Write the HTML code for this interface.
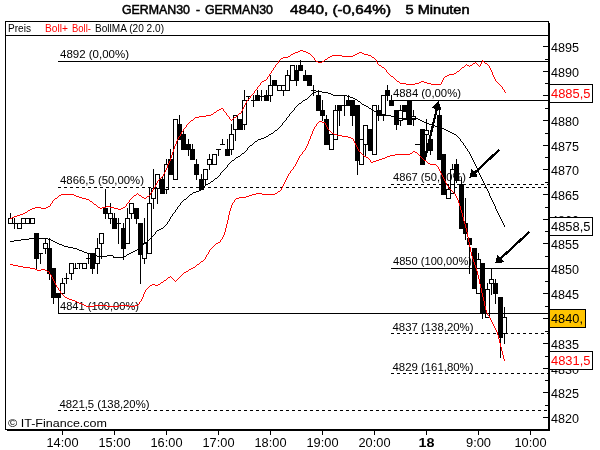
<!DOCTYPE html>
<html><head><meta charset="utf-8"><style>html,body{margin:0;padding:0;background:#fff;overflow:hidden}svg{display:block;will-change:transform}text{shape-rendering:auto}</style></head>
<body><svg width="600" height="450" viewBox="0 0 600 450" shape-rendering="crispEdges"><path fill="#000" d="M5 21h544v1h-544zM5 21h1v409h-1zM548 21h1v409h-1zM549 23h1v408h-1zM5 429h545v1h-545zM7 430h543v1h-543zM5 35h544v1h-544z"/><text x="8" y="32" font-family="'Liberation Sans', sans-serif" font-size="11" font-weight="normal" fill="#000" text-anchor="start" textLength="23" lengthAdjust="spacingAndGlyphs">Preis</text><text x="45" y="32" font-family="'Liberation Sans', sans-serif" font-size="11" font-weight="normal" fill="#f00" text-anchor="start" textLength="23" lengthAdjust="spacingAndGlyphs">Boll+</text><text x="72" y="32" font-family="'Liberation Sans', sans-serif" font-size="11" font-weight="normal" fill="#f00" text-anchor="start" textLength="19" lengthAdjust="spacingAndGlyphs">Boll-</text><text x="95" y="32" font-family="'Liberation Sans', sans-serif" font-size="11" font-weight="normal" fill="#000" text-anchor="start" textLength="69" lengthAdjust="spacingAndGlyphs">BollMA (20 2.0)</text><text x="122" y="14" font-family="'Liberation Sans', sans-serif" font-size="12" font-weight="normal" fill="#000" text-anchor="start" textLength="68" lengthAdjust="spacingAndGlyphs" stroke="#000" stroke-width="0.5">GERMAN30</text><text x="196" y="14" font-family="'Liberation Sans', sans-serif" font-size="12" font-weight="normal" fill="#000" text-anchor="start" textLength="4" lengthAdjust="spacingAndGlyphs" stroke="#000" stroke-width="0.5">-</text><text x="205" y="14" font-family="'Liberation Sans', sans-serif" font-size="12" font-weight="normal" fill="#000" text-anchor="start" textLength="68" lengthAdjust="spacingAndGlyphs" stroke="#000" stroke-width="0.5">GERMAN30</text><text x="290" y="14" font-family="'Liberation Sans', sans-serif" font-size="12" font-weight="normal" fill="#000" text-anchor="start" textLength="101" lengthAdjust="spacingAndGlyphs" stroke="#000" stroke-width="0.5">4840, (-0,64%)</text><text x="405.5" y="14" font-family="'Liberation Sans', sans-serif" font-size="12" font-weight="normal" fill="#000" text-anchor="start" textLength="64" lengthAdjust="spacingAndGlyphs" stroke="#000" stroke-width="0.5">5 Minuten</text><path fill="#000" d="M543 46h5v1h-5z"/><text x="551" y="52" font-family="'Liberation Sans', sans-serif" font-size="12" font-weight="normal" fill="#000" text-anchor="start" textLength="28" lengthAdjust="spacingAndGlyphs">4895</text><path fill="#000" d="M545 59h3v1h-3zM543 71h5v1h-5z"/><text x="551" y="77" font-family="'Liberation Sans', sans-serif" font-size="12" font-weight="normal" fill="#000" text-anchor="start" textLength="28" lengthAdjust="spacingAndGlyphs">4890</text><path fill="#000" d="M545 83h3v1h-3zM543 95h5v1h-5z"/><text x="551" y="101" font-family="'Liberation Sans', sans-serif" font-size="12" font-weight="normal" fill="#000" text-anchor="start" textLength="28" lengthAdjust="spacingAndGlyphs">4885</text><path fill="#000" d="M545 108h3v1h-3zM543 120h5v1h-5z"/><text x="551" y="126" font-family="'Liberation Sans', sans-serif" font-size="12" font-weight="normal" fill="#000" text-anchor="start" textLength="28" lengthAdjust="spacingAndGlyphs">4880</text><path fill="#000" d="M545 133h3v1h-3zM543 145h5v1h-5z"/><text x="551" y="151" font-family="'Liberation Sans', sans-serif" font-size="12" font-weight="normal" fill="#000" text-anchor="start" textLength="28" lengthAdjust="spacingAndGlyphs">4875</text><path fill="#000" d="M545 157h3v1h-3zM543 169h5v1h-5z"/><text x="551" y="175" font-family="'Liberation Sans', sans-serif" font-size="12" font-weight="normal" fill="#000" text-anchor="start" textLength="28" lengthAdjust="spacingAndGlyphs">4870</text><path fill="#000" d="M545 182h3v1h-3zM543 194h5v1h-5z"/><text x="551" y="200" font-family="'Liberation Sans', sans-serif" font-size="12" font-weight="normal" fill="#000" text-anchor="start" textLength="28" lengthAdjust="spacingAndGlyphs">4865</text><path fill="#000" d="M545 207h3v1h-3zM543 219h5v1h-5z"/><text x="551" y="225" font-family="'Liberation Sans', sans-serif" font-size="12" font-weight="normal" fill="#000" text-anchor="start" textLength="28" lengthAdjust="spacingAndGlyphs">4860</text><path fill="#000" d="M545 231h3v1h-3zM543 243h5v1h-5z"/><text x="551" y="249" font-family="'Liberation Sans', sans-serif" font-size="12" font-weight="normal" fill="#000" text-anchor="start" textLength="28" lengthAdjust="spacingAndGlyphs">4855</text><path fill="#000" d="M545 256h3v1h-3zM543 268h5v1h-5z"/><text x="551" y="274" font-family="'Liberation Sans', sans-serif" font-size="12" font-weight="normal" fill="#000" text-anchor="start" textLength="28" lengthAdjust="spacingAndGlyphs">4850</text><path fill="#000" d="M545 281h3v1h-3zM543 293h5v1h-5z"/><text x="551" y="299" font-family="'Liberation Sans', sans-serif" font-size="12" font-weight="normal" fill="#000" text-anchor="start" textLength="28" lengthAdjust="spacingAndGlyphs">4845</text><path fill="#000" d="M545 306h3v1h-3zM543 318h5v1h-5z"/><text x="551" y="324" font-family="'Liberation Sans', sans-serif" font-size="12" font-weight="normal" fill="#000" text-anchor="start" textLength="28" lengthAdjust="spacingAndGlyphs">4840</text><path fill="#000" d="M545 331h3v1h-3zM543 343h5v1h-5z"/><text x="551" y="349" font-family="'Liberation Sans', sans-serif" font-size="12" font-weight="normal" fill="#000" text-anchor="start" textLength="28" lengthAdjust="spacingAndGlyphs">4835</text><path fill="#000" d="M545 356h3v1h-3zM543 368h5v1h-5z"/><text x="551" y="374" font-family="'Liberation Sans', sans-serif" font-size="12" font-weight="normal" fill="#000" text-anchor="start" textLength="28" lengthAdjust="spacingAndGlyphs">4830</text><path fill="#000" d="M545 380h3v1h-3zM543 392h5v1h-5z"/><text x="551" y="398" font-family="'Liberation Sans', sans-serif" font-size="12" font-weight="normal" fill="#000" text-anchor="start" textLength="28" lengthAdjust="spacingAndGlyphs">4825</text><path fill="#000" d="M545 405h3v1h-3zM543 417h5v1h-5z"/><text x="551" y="423" font-family="'Liberation Sans', sans-serif" font-size="12" font-weight="normal" fill="#000" text-anchor="start" textLength="28" lengthAdjust="spacingAndGlyphs">4820</text><path fill="#000" d="M62 431h1v4h-1z"/><text x="62.5" y="447" font-family="'Liberation Sans', sans-serif" font-size="12" font-weight="normal" fill="#000" text-anchor="middle" textLength="32" lengthAdjust="spacingAndGlyphs">14:00</text><path fill="#000" d="M114 431h1v4h-1z"/><text x="114.5" y="447" font-family="'Liberation Sans', sans-serif" font-size="12" font-weight="normal" fill="#000" text-anchor="middle" textLength="32" lengthAdjust="spacingAndGlyphs">15:00</text><path fill="#000" d="M166 431h1v4h-1z"/><text x="166.5" y="447" font-family="'Liberation Sans', sans-serif" font-size="12" font-weight="normal" fill="#000" text-anchor="middle" textLength="32" lengthAdjust="spacingAndGlyphs">16:00</text><path fill="#000" d="M218 431h1v4h-1z"/><text x="218.5" y="447" font-family="'Liberation Sans', sans-serif" font-size="12" font-weight="normal" fill="#000" text-anchor="middle" textLength="32" lengthAdjust="spacingAndGlyphs">17:00</text><path fill="#000" d="M270 431h1v4h-1z"/><text x="270.5" y="447" font-family="'Liberation Sans', sans-serif" font-size="12" font-weight="normal" fill="#000" text-anchor="middle" textLength="32" lengthAdjust="spacingAndGlyphs">18:00</text><path fill="#000" d="M322 431h1v4h-1z"/><text x="322.5" y="447" font-family="'Liberation Sans', sans-serif" font-size="12" font-weight="normal" fill="#000" text-anchor="middle" textLength="32" lengthAdjust="spacingAndGlyphs">19:00</text><path fill="#000" d="M374 431h1v4h-1z"/><text x="374.5" y="447" font-family="'Liberation Sans', sans-serif" font-size="12" font-weight="normal" fill="#000" text-anchor="middle" textLength="32" lengthAdjust="spacingAndGlyphs">20:00</text><path fill="#000" d="M426 431h1v4h-1z"/><text x="426.5" y="447" font-family="'Liberation Sans', sans-serif" font-size="12" font-weight="bold" fill="#000" text-anchor="middle" textLength="16" lengthAdjust="spacingAndGlyphs">18</text><path fill="#000" d="M478 431h1v4h-1z"/><text x="478.5" y="447" font-family="'Liberation Sans', sans-serif" font-size="12" font-weight="normal" fill="#000" text-anchor="middle" textLength="25" lengthAdjust="spacingAndGlyphs">9:00</text><path fill="#000" d="M530 431h1v4h-1z"/><text x="530.5" y="447" font-family="'Liberation Sans', sans-serif" font-size="12" font-weight="normal" fill="#000" text-anchor="middle" textLength="32" lengthAdjust="spacingAndGlyphs">10:00</text><path fill="#000" d="M58 61h490v1h-490zM391 100h157v1h-157zM391 184h3v1h-3zM397 184h3v1h-3zM403 184h3v1h-3zM409 184h3v1h-3zM415 184h3v1h-3zM421 184h3v1h-3zM427 184h3v1h-3zM433 184h3v1h-3zM439 184h3v1h-3zM445 184h3v1h-3zM451 184h3v1h-3zM457 184h3v1h-3zM463 184h3v1h-3zM469 184h3v1h-3zM475 184h3v1h-3zM481 184h3v1h-3zM487 184h3v1h-3zM493 184h3v1h-3zM499 184h3v1h-3zM505 184h3v1h-3zM511 184h3v1h-3zM517 184h3v1h-3zM523 184h3v1h-3zM529 184h3v1h-3zM535 184h3v1h-3zM541 184h3v1h-3zM547 184h1v1h-1zM58 187h3v1h-3zM64 187h3v1h-3zM70 187h3v1h-3zM76 187h3v1h-3zM82 187h3v1h-3zM88 187h3v1h-3zM94 187h3v1h-3zM100 187h3v1h-3zM106 187h3v1h-3zM112 187h3v1h-3zM118 187h3v1h-3zM124 187h3v1h-3zM130 187h3v1h-3zM136 187h3v1h-3zM142 187h3v1h-3zM148 187h3v1h-3zM154 187h3v1h-3zM160 187h3v1h-3zM166 187h3v1h-3zM172 187h3v1h-3zM178 187h3v1h-3zM184 187h3v1h-3zM190 187h3v1h-3zM196 187h3v1h-3zM202 187h3v1h-3zM208 187h3v1h-3zM214 187h3v1h-3zM220 187h3v1h-3zM226 187h3v1h-3zM232 187h3v1h-3zM238 187h3v1h-3zM244 187h3v1h-3zM250 187h3v1h-3zM256 187h3v1h-3zM262 187h3v1h-3zM268 187h3v1h-3zM274 187h3v1h-3zM280 187h3v1h-3zM286 187h3v1h-3zM292 187h3v1h-3zM298 187h3v1h-3zM304 187h3v1h-3zM310 187h3v1h-3zM316 187h3v1h-3zM322 187h3v1h-3zM328 187h3v1h-3zM334 187h3v1h-3zM340 187h3v1h-3zM346 187h3v1h-3zM352 187h3v1h-3zM358 187h3v1h-3zM364 187h3v1h-3zM370 187h3v1h-3zM376 187h3v1h-3zM382 187h3v1h-3zM388 187h3v1h-3zM394 187h3v1h-3zM400 187h3v1h-3zM406 187h3v1h-3zM412 187h3v1h-3zM418 187h3v1h-3zM424 187h3v1h-3zM430 187h3v1h-3zM436 187h3v1h-3zM442 187h3v1h-3zM448 187h3v1h-3zM454 187h3v1h-3zM460 187h3v1h-3zM466 187h3v1h-3zM472 187h3v1h-3zM478 187h3v1h-3zM484 187h3v1h-3zM490 187h3v1h-3zM496 187h3v1h-3zM502 187h3v1h-3zM508 187h3v1h-3zM514 187h3v1h-3zM520 187h3v1h-3zM526 187h3v1h-3zM532 187h3v1h-3zM538 187h3v1h-3zM544 187h3v1h-3zM391 268h157v1h-157zM58 313h490v1h-490zM391 333h3v1h-3zM397 333h3v1h-3zM403 333h3v1h-3zM409 333h3v1h-3zM415 333h3v1h-3zM421 333h3v1h-3zM427 333h3v1h-3zM433 333h3v1h-3zM439 333h3v1h-3zM445 333h3v1h-3zM451 333h3v1h-3zM457 333h3v1h-3zM463 333h3v1h-3zM469 333h3v1h-3zM475 333h3v1h-3zM481 333h3v1h-3zM487 333h3v1h-3zM493 333h3v1h-3zM499 333h3v1h-3zM505 333h3v1h-3zM511 333h3v1h-3zM517 333h3v1h-3zM523 333h3v1h-3zM529 333h3v1h-3zM535 333h3v1h-3zM541 333h3v1h-3zM547 333h1v1h-1zM391 373h3v1h-3zM397 373h3v1h-3zM403 373h3v1h-3zM409 373h3v1h-3zM415 373h3v1h-3zM421 373h3v1h-3zM427 373h3v1h-3zM433 373h3v1h-3zM439 373h3v1h-3zM445 373h3v1h-3zM451 373h3v1h-3zM457 373h3v1h-3zM463 373h3v1h-3zM469 373h3v1h-3zM475 373h3v1h-3zM481 373h3v1h-3zM487 373h3v1h-3zM493 373h3v1h-3zM499 373h3v1h-3zM505 373h3v1h-3zM511 373h3v1h-3zM517 373h3v1h-3zM523 373h3v1h-3zM529 373h3v1h-3zM535 373h3v1h-3zM541 373h3v1h-3zM547 373h1v1h-1zM58 410h3v1h-3zM64 410h3v1h-3zM70 410h3v1h-3zM76 410h3v1h-3zM82 410h3v1h-3zM88 410h3v1h-3zM94 410h3v1h-3zM100 410h3v1h-3zM106 410h3v1h-3zM112 410h3v1h-3zM118 410h3v1h-3zM124 410h3v1h-3zM130 410h3v1h-3zM136 410h3v1h-3zM142 410h3v1h-3zM148 410h3v1h-3zM154 410h3v1h-3zM160 410h3v1h-3zM166 410h3v1h-3zM172 410h3v1h-3zM178 410h3v1h-3zM184 410h3v1h-3zM190 410h3v1h-3zM196 410h3v1h-3zM202 410h3v1h-3zM208 410h3v1h-3zM214 410h3v1h-3zM220 410h3v1h-3zM226 410h3v1h-3zM232 410h3v1h-3zM238 410h3v1h-3zM244 410h3v1h-3zM250 410h3v1h-3zM256 410h3v1h-3zM262 410h3v1h-3zM268 410h3v1h-3zM274 410h3v1h-3zM280 410h3v1h-3zM286 410h3v1h-3zM292 410h3v1h-3zM298 410h3v1h-3zM304 410h3v1h-3zM310 410h3v1h-3zM316 410h3v1h-3zM322 410h3v1h-3zM328 410h3v1h-3zM334 410h3v1h-3zM340 410h3v1h-3zM346 410h3v1h-3zM352 410h3v1h-3zM358 410h3v1h-3zM364 410h3v1h-3zM370 410h3v1h-3zM376 410h3v1h-3zM382 410h3v1h-3zM388 410h3v1h-3zM394 410h3v1h-3zM400 410h3v1h-3zM406 410h3v1h-3zM412 410h3v1h-3zM418 410h3v1h-3zM424 410h3v1h-3zM430 410h3v1h-3zM436 410h3v1h-3zM442 410h3v1h-3zM448 410h3v1h-3zM454 410h3v1h-3zM460 410h3v1h-3zM466 410h3v1h-3zM472 410h3v1h-3zM478 410h3v1h-3zM484 410h3v1h-3zM490 410h3v1h-3zM496 410h3v1h-3zM502 410h3v1h-3zM508 410h3v1h-3zM514 410h3v1h-3zM520 410h3v1h-3zM526 410h3v1h-3zM532 410h3v1h-3zM538 410h3v1h-3zM544 410h3v1h-3z"/><text x="60" y="58" font-family="'Liberation Sans', sans-serif" font-size="11" font-weight="normal" fill="#000" text-anchor="start" textLength="69" lengthAdjust="spacingAndGlyphs">4892 (0,00%)</text><text x="393" y="97" font-family="'Liberation Sans', sans-serif" font-size="11" font-weight="normal" fill="#000" text-anchor="start" textLength="68" lengthAdjust="spacingAndGlyphs">4884 (0,00%)</text><text x="60" y="184" font-family="'Liberation Sans', sans-serif" font-size="11" font-weight="normal" fill="#000" text-anchor="start" textLength="84" lengthAdjust="spacingAndGlyphs">4866,5 (50,00%)</text><text x="393" y="181" font-family="'Liberation Sans', sans-serif" font-size="11" font-weight="normal" fill="#000" text-anchor="start" textLength="73" lengthAdjust="spacingAndGlyphs">4867 (50,00%)</text><text x="393" y="265" font-family="'Liberation Sans', sans-serif" font-size="11" font-weight="normal" fill="#000" text-anchor="start" textLength="79" lengthAdjust="spacingAndGlyphs">4850 (100,00%)</text><text x="60" y="310" font-family="'Liberation Sans', sans-serif" font-size="11" font-weight="normal" fill="#000" text-anchor="start" textLength="79" lengthAdjust="spacingAndGlyphs">4841 (100,00%)</text><text x="392.5" y="331" font-family="'Liberation Sans', sans-serif" font-size="11" font-weight="normal" fill="#000" text-anchor="start" textLength="81" lengthAdjust="spacingAndGlyphs">4837 (138,20%)</text><text x="392.5" y="371" font-family="'Liberation Sans', sans-serif" font-size="11" font-weight="normal" fill="#000" text-anchor="start" textLength="81" lengthAdjust="spacingAndGlyphs">4829 (161,80%)</text><text x="59.5" y="408" font-family="'Liberation Sans', sans-serif" font-size="11" font-weight="normal" fill="#000" text-anchor="start" textLength="90" lengthAdjust="spacingAndGlyphs">4821,5 (138,20%)</text><text x="8" y="427" font-family="'Liberation Sans', sans-serif" font-size="11" font-weight="normal" fill="#000" text-anchor="start" textLength="99" lengthAdjust="spacingAndGlyphs">© IT-Finance.com</text><path fill="#000" d="M402 105h5v7h-5zM10 213h1v6h-1zM8 218h5v1h-5zM8 223h5v1h-5zM8 218h1v6h-1zM12 218h1v6h-1zM14 218h1v6h-1zM14 223h1v6h-1zM12 223h5v1h-5zM14 218h1v11h-1zM17 223h5v1h-5zM17 228h5v1h-5zM17 223h1v6h-1zM21 223h1v6h-1zM21 218h5v1h-5zM21 223h5v1h-5zM21 218h1v6h-1zM25 218h1v6h-1zM25 218h5v1h-5zM25 223h5v1h-5zM25 218h1v6h-1zM29 218h1v6h-1zM30 218h5v1h-5zM30 223h5v1h-5zM30 218h1v6h-1zM34 218h1v6h-1zM36 258h1v11h-1zM34 233h5v26h-5zM40 253h1v11h-1zM38 253h5v1h-5zM40 253h1v11h-1zM45 238h1v6h-1zM45 248h1v6h-1zM43 243h5v1h-5zM43 248h5v1h-5zM43 243h1v6h-1zM47 243h1v6h-1zM49 238h1v11h-1zM49 273h1v7h-1zM47 248h5v26h-5zM53 297h1v7h-1zM51 268h5v30h-5zM58 297h1v17h-1zM56 293h5v5h-5zM62 278h1v6h-1zM60 283h5v1h-5zM60 293h5v1h-5zM60 283h1v11h-1zM64 283h1v11h-1zM66 273h1v6h-1zM66 278h1v6h-1zM64 278h5v1h-5zM66 273h1v11h-1zM71 273h1v7h-1zM69 263h5v1h-5zM69 273h5v1h-5zM69 263h1v11h-1zM73 263h1v11h-1zM75 263h1v6h-1zM73 268h5v1h-5zM75 263h1v6h-1zM79 263h1v6h-1zM77 263h5v1h-5zM79 263h1v6h-1zM82 263h5v1h-5zM82 268h5v1h-5zM82 263h1v6h-1zM86 263h1v6h-1zM88 254h1v5h-1zM88 258h1v6h-1zM86 258h5v1h-5zM88 254h1v10h-1zM92 268h1v6h-1zM90 253h5v16h-5zM97 238h1v11h-1zM97 263h1v11h-1zM95 248h5v1h-5zM95 263h5v1h-5zM95 248h1v16h-1zM99 248h1v16h-1zM101 243h1v16h-1zM99 233h5v1h-5zM99 243h5v1h-5zM99 233h1v11h-1zM103 233h1v11h-1zM105 189h1v20h-1zM105 213h1v6h-1zM103 208h5v6h-5zM110 203h1v11h-1zM110 218h1v6h-1zM108 213h5v1h-5zM108 218h5v1h-5zM108 213h1v6h-1zM112 213h1v6h-1zM114 213h1v6h-1zM112 218h5v11h-5zM118 218h1v6h-1zM118 223h1v21h-1zM116 223h5v1h-5zM118 218h1v26h-1zM123 223h1v6h-1zM123 248h1v12h-1zM121 228h5v21h-5zM127 208h1v11h-1zM125 218h5v1h-5zM125 243h5v1h-5zM125 218h1v26h-1zM129 218h1v26h-1zM131 213h1v6h-1zM129 203h5v1h-5zM129 213h5v1h-5zM129 203h1v11h-1zM133 203h1v11h-1zM136 218h1v6h-1zM134 208h5v11h-5zM140 254h1v30h-1zM138 223h5v32h-5zM144 218h1v26h-1zM144 258h1v6h-1zM142 243h5v1h-5zM142 258h5v1h-5zM142 243h1v16h-1zM146 243h1v16h-1zM149 188h1v16h-1zM147 203h5v1h-5zM147 253h5v1h-5zM147 203h1v51h-1zM151 203h1v51h-1zM153 169h1v20h-1zM153 198h1v11h-1zM151 188h5v1h-5zM151 198h5v1h-5zM151 188h1v11h-1zM155 188h1v11h-1zM157 188h1v16h-1zM155 174h5v1h-5zM155 188h5v1h-5zM155 174h1v15h-1zM159 174h1v15h-1zM162 176h1v4h-1zM160 179h5v15h-5zM166 159h1v6h-1zM166 189h1v5h-1zM164 164h5v1h-5zM164 189h5v1h-5zM164 164h1v26h-1zM168 164h1v26h-1zM170 149h1v11h-1zM168 159h5v16h-5zM173 119h5v1h-5zM173 179h5v1h-5zM173 119h1v61h-1zM177 119h1v61h-1zM179 115h1v10h-1zM177 124h5v16h-5zM183 129h1v6h-1zM181 134h5v16h-5zM188 139h1v6h-1zM188 149h1v7h-1zM186 144h5v6h-5zM192 144h1v6h-1zM190 149h5v11h-5zM196 159h1v6h-1zM196 174h1v6h-1zM194 164h5v11h-5zM201 174h1v6h-1zM199 179h5v11h-5zM205 179h1v6h-1zM203 169h5v1h-5zM203 179h5v1h-5zM203 169h1v11h-1zM207 169h1v11h-1zM209 154h1v6h-1zM209 164h1v6h-1zM207 159h5v1h-5zM207 164h5v1h-5zM207 159h1v6h-1zM211 159h1v6h-1zM212 154h5v1h-5zM212 164h5v1h-5zM212 154h1v11h-1zM216 154h1v11h-1zM218 149h1v7h-1zM216 149h5v1h-5zM218 149h1v7h-1zM222 139h1v6h-1zM220 144h5v1h-5zM222 139h1v6h-1zM227 139h1v11h-1zM225 149h5v7h-5zM231 124h1v11h-1zM231 149h1v6h-1zM229 134h5v1h-5zM229 149h5v1h-5zM229 134h1v16h-1zM233 134h1v16h-1zM235 129h1v12h-1zM233 115h5v1h-5zM233 129h5v1h-5zM233 115h1v15h-1zM237 115h1v15h-1zM238 119h5v11h-5zM244 90h1v11h-1zM244 124h1v6h-1zM242 100h5v1h-5zM242 124h5v1h-5zM242 100h1v25h-1zM246 100h1v25h-1zM248 96h1v5h-1zM246 96h5v1h-5zM248 96h1v5h-1zM253 95h1v6h-1zM253 100h1v7h-1zM251 100h5v1h-5zM253 95h1v12h-1zM257 90h1v6h-1zM255 95h5v6h-5zM261 90h1v7h-1zM261 96h1v5h-1zM259 96h5v1h-5zM261 90h1v11h-1zM266 90h1v6h-1zM264 95h5v6h-5zM270 75h1v11h-1zM270 95h1v7h-1zM268 85h5v1h-5zM268 95h5v1h-5zM268 85h1v11h-1zM272 85h1v11h-1zM272 80h5v6h-5zM277 85h5v1h-5zM277 90h5v1h-5zM277 85h1v6h-1zM281 85h1v6h-1zM283 90h1v6h-1zM281 85h5v1h-5zM281 90h5v1h-5zM281 85h1v6h-1zM285 85h1v6h-1zM287 70h1v6h-1zM285 75h5v1h-5zM285 90h5v1h-5zM285 75h1v16h-1zM289 75h1v16h-1zM290 65h5v1h-5zM290 80h5v1h-5zM290 65h1v16h-1zM294 65h1v16h-1zM296 65h1v6h-1zM296 80h1v6h-1zM294 70h5v11h-5zM300 60h1v6h-1zM298 65h5v6h-5zM305 70h1v6h-1zM303 75h5v6h-5zM307 75h5v11h-5zM313 85h1v6h-1zM313 90h1v6h-1zM311 90h5v1h-5zM313 85h1v11h-1zM318 90h1v6h-1zM316 95h5v16h-5zM322 100h1v11h-1zM322 115h1v6h-1zM320 110h5v6h-5zM326 115h1v5h-1zM324 119h5v26h-5zM329 134h5v1h-5zM329 149h5v1h-5zM329 134h1v16h-1zM333 134h1v16h-1zM335 105h1v6h-1zM333 110h5v1h-5zM333 139h5v1h-5zM333 110h1v30h-1zM337 110h1v30h-1zM339 110h1v16h-1zM337 105h5v6h-5zM344 95h1v11h-1zM344 105h1v11h-1zM342 105h5v1h-5zM344 95h1v21h-1zM348 95h1v6h-1zM346 100h5v6h-5zM352 115h1v11h-1zM350 100h5v16h-5zM357 160h1v15h-1zM355 105h5v56h-5zM359 139h5v1h-5zM359 164h5v1h-5zM359 139h1v26h-1zM363 139h1v26h-1zM365 144h1v12h-1zM363 125h5v1h-5zM363 144h5v1h-5zM363 125h1v20h-1zM367 125h1v20h-1zM368 129h5v22h-5zM372 105h5v1h-5zM372 154h5v1h-5zM372 105h1v50h-1zM376 105h1v50h-1zM378 105h1v6h-1zM378 115h1v6h-1zM376 110h5v6h-5zM383 115h1v6h-1zM381 95h5v1h-5zM381 115h5v1h-5zM381 95h1v21h-1zM385 95h1v21h-1zM387 85h1v6h-1zM387 95h1v6h-1zM385 90h5v6h-5zM391 95h1v6h-1zM389 100h5v6h-5zM396 124h1v6h-1zM394 110h5v15h-5zM400 105h1v6h-1zM400 120h1v6h-1zM398 110h5v1h-5zM398 120h5v1h-5zM398 110h1v11h-1zM402 110h1v11h-1zM404 105h1v7h-1zM402 111h5v1h-5zM402 119h5v1h-5zM402 111h1v9h-1zM406 111h1v9h-1zM407 100h5v25h-5zM413 110h1v7h-1zM413 119h1v7h-1zM411 116h5v1h-5zM411 119h5v1h-5zM411 116h1v4h-1zM415 116h1v4h-1zM415 144h5v1h-5zM417 144h1v1h-1zM420 129h5v36h-5zM426 119h1v12h-1zM426 134h1v17h-1zM424 130h5v1h-5zM424 134h5v1h-5zM424 130h1v5h-1zM428 130h1v5h-1zM430 150h1v5h-1zM428 139h5v12h-5zM439 110h1v6h-1zM437 115h5v45h-5zM441 154h5v41h-5zM448 184h1v6h-1zM446 189h5v1h-5zM446 198h5v1h-5zM446 189h1v10h-1zM450 189h1v10h-1zM452 164h1v6h-1zM450 169h5v1h-5zM450 193h5v1h-5zM450 169h1v25h-1zM454 169h1v25h-1zM456 159h1v6h-1zM456 180h1v3h-1zM454 164h5v17h-5zM461 178h1v7h-1zM459 184h5v45h-5zM465 198h1v26h-1zM465 233h1v7h-1zM463 223h5v11h-5zM469 244h1v30h-1zM467 238h5v7h-5zM472 248h5v41h-5zM478 253h1v7h-1zM476 259h5v1h-5zM476 293h5v1h-5zM476 259h1v35h-1zM480 259h1v35h-1zM482 313h1v6h-1zM480 263h5v51h-5zM487 283h1v7h-1zM485 289h5v1h-5zM485 317h5v1h-5zM485 289h1v29h-1zM489 289h1v29h-1zM491 268h1v12h-1zM491 283h1v12h-1zM489 279h5v1h-5zM489 283h5v1h-5zM489 279h1v5h-1zM493 279h1v5h-1zM495 279h1v5h-1zM495 293h1v11h-1zM493 283h5v11h-5zM500 337h1v21h-1zM498 297h5v41h-5zM504 307h1v11h-1zM504 333h1v11h-1zM502 317h5v1h-5zM502 333h5v1h-5zM502 317h1v17h-1zM506 317h1v17h-1zM64 246h4v1h-4zM140 246h2v1h-2zM82 251h2v1h-2zM133 251h2v1h-2zM281 125h1v1h-1zM433 125h2v1h-2zM59 244h3v1h-3zM143 244h1v1h-1zM188 196h1v1h-1zM490 196h1v1h-1zM97 256h10v1h-10zM113 256h1v1h-1zM124 256h2v1h-2zM252 144h1v1h-1zM463 144h1v1h-1zM230 162h1v1h-1zM474 162h1v1h-1zM62 245h2v1h-2zM142 245h1v1h-1zM10 241h4v1h-4zM53 241h2v1h-2zM147 241h1v1h-1zM192 193h1v1h-1zM489 193h1v1h-1zM291 112h1v1h-1zM376 112h3v1h-3zM314 92h2v1h-2zM322 92h6v1h-6zM246 150h1v1h-1zM467 150h1v1h-1zM172 214h1v1h-1zM498 214h1v1h-1zM287 117h1v1h-1zM395 117h3v1h-3zM196 191h3v1h-3zM488 191h1v1h-1zM29 238h19v1h-19zM150 238h1v1h-1zM294 108h1v1h-1zM369 108h2v1h-2zM242 153h2v1h-2zM469 153h1v1h-1zM57 243h2v1h-2zM144 243h1v1h-1zM210 182h1v1h-1zM483 182h1v1h-1zM286 118h1v1h-1zM398 118h20v1h-20zM21 239h8v1h-8zM48 239h3v1h-3zM149 239h1v1h-1zM271 133h2v1h-2zM452 133h2v1h-2zM215 178h2v1h-2zM481 178h1v1h-1zM299 103h2v1h-2zM361 103h1v1h-1zM205 185h1v1h-1zM485 185h1v1h-1zM231 161h1v1h-1zM473 161h1v1h-1zM168 221h1v1h-1zM502 221h1v1h-1zM157 230h2v1h-2zM177 207h1v1h-1zM495 207h1v1h-1zM94 255h3v1h-3zM107 255h6v1h-6zM126 255h1v1h-1zM316 91h6v1h-6zM235 158h1v1h-1zM472 158h1v1h-1zM293 110h1v1h-1zM372 110h2v1h-2zM268 135h1v1h-1zM456 135h1v1h-1zM175 211h1v1h-1zM497 211h1v1h-1zM274 131h1v1h-1zM448 131h2v1h-2zM87 253h4v1h-4zM129 253h2v1h-2zM279 127h1v1h-1zM438 127h3v1h-3zM14 240h7v1h-7zM51 240h2v1h-2zM148 240h1v1h-1zM152 236h1v1h-1zM254 142h1v1h-1zM462 142h1v1h-1zM240 155h1v1h-1zM470 155h1v1h-1zM278 128h1v1h-1zM441 128h3v1h-3zM232 160h2v1h-2zM473 160h1v1h-1zM289 114h1v1h-1zM382 114h4v1h-4zM253 143h1v1h-1zM463 143h1v1h-1zM55 242h2v1h-2zM145 242h2v1h-2zM311 94h1v1h-1zM331 94h2v1h-2zM247 148h1v1h-1zM466 148h1v1h-1zM206 184h2v1h-2zM484 184h1v1h-1zM201 189h1v1h-1zM487 189h1v1h-1zM223 170h1v1h-1zM478 170h1v1h-1zM277 129h1v1h-1zM444 129h2v1h-2zM289 115h1v1h-1zM386 115h5v1h-5zM214 179h1v1h-1zM482 179h1v1h-1zM249 146h1v1h-1zM465 146h1v1h-1zM280 126h1v1h-1zM435 126h3v1h-3zM303 100h2v1h-2zM357 100h1v1h-1zM261 138h3v1h-3zM459 138h1v1h-1zM218 176h1v1h-1zM480 176h1v1h-1zM308 97h1v1h-1zM350 97h3v1h-3zM199 190h2v1h-2zM487 190h1v1h-1zM290 113h1v1h-1zM379 113h3v1h-3zM179 205h1v1h-1zM494 205h1v1h-1zM269 134h2v1h-2zM454 134h2v1h-2zM180 204h1v1h-1zM494 204h1v1h-1zM275 130h2v1h-2zM446 130h2v1h-2zM310 95h1v1h-1zM333 95h14v1h-14zM178 206h1v1h-1zM495 206h1v1h-1zM226 167h1v1h-1zM476 167h1v1h-1zM229 163h1v1h-1zM474 163h1v1h-1zM163 227h1v1h-1zM297 105h1v1h-1zM364 105h2v1h-2zM175 210h1v1h-1zM496 210h1v1h-1zM295 107h1v1h-1zM368 107h1v1h-1zM113 257h11v1h-11zM273 132h1v1h-1zM450 132h2v1h-2zM68 247h5v1h-5zM139 247h1v1h-1zM241 154h1v1h-1zM470 154h1v1h-1zM301 102h1v1h-1zM360 102h1v1h-1zM208 183h2v1h-2zM484 183h1v1h-1zM79 250h3v1h-3zM135 250h2v1h-2zM257 140h1v1h-1zM460 140h1v1h-1zM183 200h1v1h-1zM492 200h1v1h-1zM284 121h1v1h-1zM422 121h2v1h-2zM193 192h3v1h-3zM488 192h1v1h-1zM84 252h3v1h-3zM131 252h2v1h-2zM187 197h1v1h-1zM490 197h1v1h-1zM155 232h1v1h-1zM312 93h2v1h-2zM328 93h3v1h-3zM184 199h2v1h-2zM491 199h1v1h-1zM73 248h4v1h-4zM138 248h1v1h-1zM159 229h2v1h-2zM236 157h2v1h-2zM471 157h1v1h-1zM292 111h1v1h-1zM374 111h2v1h-2zM77 249h2v1h-2zM137 249h1v1h-1zM244 152h1v1h-1zM469 152h1v1h-1zM221 172h1v1h-1zM478 172h1v1h-1zM211 181h2v1h-2zM483 181h1v1h-1zM283 122h1v1h-1zM424 122h2v1h-2zM307 98h1v1h-1zM353 98h2v1h-2zM171 216h1v1h-1zM499 216h1v1h-1zM91 254h3v1h-3zM127 254h2v1h-2zM282 123h1v1h-1zM426 123h3v1h-3zM151 237h1v1h-1zM305 99h2v1h-2zM355 99h2v1h-2zM285 120h1v1h-1zM420 120h2v1h-2zM309 96h1v1h-1zM347 96h3v1h-3zM164 226h1v1h-1zM504 226h1v1h-1zM167 223h1v1h-1zM503 223h1v1h-1zM245 151h1v1h-1zM468 151h1v1h-1zM264 137h2v1h-2zM458 137h1v1h-1zM248 147h1v1h-1zM465 147h1v1h-1zM258 139h3v1h-3zM460 139h1v1h-1zM220 174h1v1h-1zM479 174h1v1h-1zM165 225h1v1h-1zM504 225h1v1h-1zM154 234h1v1h-1zM174 212h1v1h-1zM497 212h1v1h-1zM177 208h1v1h-1zM495 208h1v1h-1zM282 124h1v1h-1zM429 124h4v1h-4zM288 116h1v1h-1zM391 116h4v1h-4zM180 203h1v1h-1zM493 203h1v1h-1zM225 168h1v1h-1zM477 168h1v1h-1zM266 136h2v1h-2zM457 136h1v1h-1zM238 156h2v1h-2zM471 156h1v1h-1zM255 141h2v1h-2zM461 141h1v1h-1zM286 119h1v1h-1zM418 119h2v1h-2zM189 195h1v1h-1zM489 195h1v1h-1zM169 220h1v1h-1zM501 220h1v1h-1zM213 180h1v1h-1zM482 180h1v1h-1zM228 164h1v1h-1zM475 164h1v1h-1zM161 228h2v1h-2zM294 109h1v1h-1zM371 109h1v1h-1zM220 173h1v1h-1zM479 173h1v1h-1zM182 201h1v1h-1zM492 201h1v1h-1zM181 202h1v1h-1zM493 202h1v1h-1zM166 224h1v1h-1zM503 224h1v1h-1zM247 149h1v1h-1zM467 149h1v1h-1zM170 218h1v1h-1zM500 218h1v1h-1zM217 177h1v1h-1zM481 177h1v1h-1zM298 104h1v1h-1zM362 104h2v1h-2zM203 187h1v1h-1zM486 187h1v1h-1zM222 171h1v1h-1zM478 171h1v1h-1zM296 106h1v1h-1zM366 106h2v1h-2zM167 222h1v1h-1zM502 222h1v1h-1zM227 166h1v1h-1zM476 166h1v1h-1zM153 235h1v1h-1zM190 194h2v1h-2zM489 194h1v1h-1zM250 145h2v1h-2zM464 145h1v1h-1zM302 101h1v1h-1zM358 101h2v1h-2zM156 231h1v1h-1zM219 175h1v1h-1zM480 175h1v1h-1zM224 169h1v1h-1zM477 169h1v1h-1zM186 198h1v1h-1zM491 198h1v1h-1zM176 209h1v1h-1zM496 209h1v1h-1zM234 159h1v1h-1zM472 159h1v1h-1zM202 188h1v1h-1zM486 188h1v1h-1zM173 213h1v1h-1zM498 213h1v1h-1zM169 219h1v1h-1zM501 219h1v1h-1zM170 217h1v1h-1zM500 217h1v1h-1zM227 165h1v1h-1zM475 165h1v1h-1zM155 233h1v1h-1zM172 215h1v1h-1zM499 215h1v1h-1zM204 186h1v1h-1zM485 186h1v1h-1z"/><path fill="#f00" d="M213 113h1v1h-1zM226 113h1v1h-1zM239 113h2v1h-2zM260 84h1v1h-1zM406 84h9v1h-9zM431 84h10v1h-10zM499 84h1v1h-1zM57 197h1v1h-1zM79 197h3v1h-3zM132 197h1v1h-1zM142 197h2v1h-2zM146 197h1v1h-1zM170 160h1v1h-1zM291 54h2v1h-2zM310 54h1v1h-1zM355 54h2v1h-2zM364 54h4v1h-4zM194 118h1v1h-1zM229 118h1v1h-1zM233 118h1v1h-1zM35 207h6v1h-6zM46 207h2v1h-2zM98 207h2v1h-2zM102 207h4v1h-4zM110 207h4v1h-4zM123 207h2v1h-2zM217 110h2v1h-2zM223 110h1v1h-1zM242 110h1v1h-1zM280 59h1v1h-1zM314 59h1v1h-1zM325 59h2v1h-2zM375 59h1v1h-1zM260 83h1v1h-1zM400 83h6v1h-6zM415 83h4v1h-4zM427 83h4v1h-4zM441 83h1v1h-1zM498 83h1v1h-1zM61 194h13v1h-13zM136 194h1v1h-1zM138 194h1v1h-1zM150 194h1v1h-1zM261 82h1v1h-1zM399 82h1v1h-1zM419 82h2v1h-2zM424 82h3v1h-3zM441 82h1v1h-1zM497 82h1v1h-1zM199 116h7v1h-7zM228 116h1v1h-1zM236 116h1v1h-1zM275 65h1v1h-1zM379 65h2v1h-2zM465 65h1v1h-1zM467 65h2v1h-2zM470 65h2v1h-2zM478 65h1v1h-1zM480 65h1v1h-1zM488 65h1v1h-1zM17 215h3v1h-3zM295 52h3v1h-3zM306 52h2v1h-2zM359 52h3v1h-3zM290 55h1v1h-1zM311 55h1v1h-1zM332 55h10v1h-10zM353 55h2v1h-2zM368 55h3v1h-3zM283 57h5v1h-5zM313 57h1v1h-1zM328 57h2v1h-2zM372 57h2v1h-2zM155 185h1v1h-1zM51 203h1v1h-1zM93 203h1v1h-1zM127 203h1v1h-1zM279 60h1v1h-1zM315 60h1v1h-1zM324 60h1v1h-1zM376 60h1v1h-1zM482 60h1v1h-1zM276 64h1v1h-1zM378 64h1v1h-1zM466 64h1v1h-1zM472 64h1v1h-1zM477 64h1v1h-1zM480 64h1v1h-1zM487 64h1v1h-1zM32 208h3v1h-3zM41 208h5v1h-5zM100 208h2v1h-2zM114 208h4v1h-4zM121 208h2v1h-2zM271 72h1v1h-1zM387 72h1v1h-1zM456 72h1v1h-1zM492 72h1v1h-1zM23 213h2v1h-2zM288 56h2v1h-2zM312 56h1v1h-1zM330 56h2v1h-2zM342 56h11v1h-11zM371 56h1v1h-1zM300 50h3v1h-3zM269 74h1v1h-1zM389 74h1v1h-1zM449 74h5v1h-5zM492 74h1v1h-1zM165 170h1v1h-1zM174 148h1v1h-1zM206 115h5v1h-5zM227 115h1v1h-1zM237 115h1v1h-1zM28 210h2v1h-2zM243 107h1v1h-1zM252 94h1v1h-1zM170 159h1v1h-1zM195 117h4v1h-4zM229 117h1v1h-1zM234 117h2v1h-2zM54 199h1v1h-1zM86 199h3v1h-3zM130 199h1v1h-1zM298 51h2v1h-2zM303 51h3v1h-3zM161 177h1v1h-1zM48 206h2v1h-2zM97 206h1v1h-1zM106 206h4v1h-4zM125 206h1v1h-1zM281 58h2v1h-2zM314 58h1v1h-1zM327 58h1v1h-1zM374 58h1v1h-1zM264 80h2v1h-2zM396 80h1v1h-1zM442 80h1v1h-1zM495 80h1v1h-1zM173 151h1v1h-1zM272 70h1v1h-1zM386 70h1v1h-1zM459 70h1v1h-1zM491 70h1v1h-1zM12 217h2v1h-2zM262 81h2v1h-2zM397 81h2v1h-2zM421 81h3v1h-3zM442 81h1v1h-1zM496 81h1v1h-1zM257 88h1v1h-1zM502 88h1v1h-1zM278 61h1v1h-1zM316 61h2v1h-2zM322 61h2v1h-2zM376 61h1v1h-1zM482 61h2v1h-2zM177 139h1v1h-1zM186 126h1v1h-1zM189 122h1v1h-1zM277 63h1v1h-1zM377 63h1v1h-1zM473 63h2v1h-2zM476 63h1v1h-1zM481 63h1v1h-1zM485 63h2v1h-2zM267 78h1v1h-1zM394 78h1v1h-1zM443 78h1v1h-1zM494 78h1v1h-1zM293 53h2v1h-2zM308 53h2v1h-2zM357 53h2v1h-2zM362 53h2v1h-2zM278 62h1v1h-1zM318 62h4v1h-4zM377 62h1v1h-1zM475 62h1v1h-1zM481 62h1v1h-1zM484 62h1v1h-1zM268 76h1v1h-1zM391 76h2v1h-2zM445 76h2v1h-2zM493 76h1v1h-1zM59 195h2v1h-2zM74 195h2v1h-2zM134 195h2v1h-2zM139 195h2v1h-2zM149 195h1v1h-1zM181 132h1v1h-1zM50 205h1v1h-1zM96 205h1v1h-1zM126 205h1v1h-1zM271 71h1v1h-1zM386 71h1v1h-1zM457 71h2v1h-2zM491 71h1v1h-1zM274 67h1v1h-1zM382 67h2v1h-2zM462 67h2v1h-2zM489 67h1v1h-1zM275 66h1v1h-1zM381 66h1v1h-1zM464 66h1v1h-1zM469 66h1v1h-1zM479 66h1v1h-1zM489 66h1v1h-1zM58 196h1v1h-1zM76 196h3v1h-3zM133 196h1v1h-1zM141 196h1v1h-1zM147 196h2v1h-2zM174 147h1v1h-1zM255 90h1v1h-1zM504 90h1v1h-1zM30 209h2v1h-2zM118 209h3v1h-3zM50 204h1v1h-1zM94 204h2v1h-2zM126 204h1v1h-1zM247 100h1v1h-1zM169 162h1v1h-1zM250 96h1v1h-1zM273 68h1v1h-1zM384 68h1v1h-1zM461 68h1v1h-1zM490 68h1v1h-1zM193 119h1v1h-1zM230 119h1v1h-1zM232 119h1v1h-1zM173 150h1v1h-1zM219 109h2v1h-2zM223 109h1v1h-1zM242 109h1v1h-1zM14 216h3v1h-3zM184 128h1v1h-1zM10 218h2v1h-2zM258 86h1v1h-1zM501 86h1v1h-1zM172 153h1v1h-1zM20 214h3v1h-3zM269 75h1v1h-1zM390 75h1v1h-1zM447 75h2v1h-2zM493 75h1v1h-1zM164 172h1v1h-1zM180 135h1v1h-1zM211 114h2v1h-2zM226 114h1v1h-1zM238 114h1v1h-1zM169 161h1v1h-1zM270 73h1v1h-1zM388 73h1v1h-1zM454 73h2v1h-2zM492 73h1v1h-1zM216 111h1v1h-1zM224 111h1v1h-1zM241 111h1v1h-1zM52 201h1v1h-1zM90 201h2v1h-2zM129 201h1v1h-1zM176 142h1v1h-1zM55 198h2v1h-2zM82 198h4v1h-4zM131 198h1v1h-1zM144 198h2v1h-2zM221 108h2v1h-2zM243 108h1v1h-1zM246 102h1v1h-1zM168 164h1v1h-1zM267 77h1v1h-1zM393 77h1v1h-1zM444 77h1v1h-1zM494 77h1v1h-1zM160 178h1v1h-1zM172 152h1v1h-1zM254 91h1v1h-1zM504 91h1v1h-1zM273 69h1v1h-1zM385 69h1v1h-1zM460 69h1v1h-1zM490 69h1v1h-1zM180 134h1v1h-1zM254 92h1v1h-1zM505 92h1v1h-1zM163 175h1v1h-1zM249 98h1v1h-1zM53 200h1v1h-1zM89 200h1v1h-1zM129 200h1v1h-1zM214 112h2v1h-2zM225 112h1v1h-1zM241 112h1v1h-1zM176 141h1v1h-1zM191 120h2v1h-2zM231 120h1v1h-1zM171 156h1v1h-1zM183 130h1v1h-1zM175 144h1v1h-1zM163 174h1v1h-1zM179 136h1v1h-1zM256 89h1v1h-1zM503 89h1v1h-1zM158 180h1v1h-1zM167 167h1v1h-1zM171 155h1v1h-1zM245 104h1v1h-1zM183 129h1v1h-1zM52 202h1v1h-1zM92 202h1v1h-1zM128 202h1v1h-1zM257 87h1v1h-1zM502 87h1v1h-1zM154 187h1v1h-1zM266 79h1v1h-1zM395 79h1v1h-1zM443 79h1v1h-1zM495 79h1v1h-1zM170 158h1v1h-1zM186 125h1v1h-1zM167 166h1v1h-1zM248 99h1v1h-1zM174 146h1v1h-1zM166 169h1v1h-1zM244 106h1v1h-1zM182 131h1v1h-1zM173 149h1v1h-1zM137 193h1v1h-1zM150 193h1v1h-1zM153 189h1v1h-1zM162 176h1v1h-1zM178 138h1v1h-1zM190 121h1v1h-1zM157 182h1v1h-1zM185 127h1v1h-1zM27 211h1v1h-1zM251 95h1v1h-1zM153 188h1v1h-1zM165 171h1v1h-1zM168 163h1v1h-1zM246 101h1v1h-1zM157 181h1v1h-1zM259 85h1v1h-1zM500 85h1v1h-1zM177 140h1v1h-1zM156 184h1v1h-1zM181 133h1v1h-1zM152 191h1v1h-1zM188 123h1v1h-1zM250 97h1v1h-1zM156 183h1v1h-1zM25 212h2v1h-2zM172 154h1v1h-1zM152 190h1v1h-1zM253 93h1v1h-1zM164 173h1v1h-1zM245 103h1v1h-1zM176 143h1v1h-1zM167 165h1v1h-1zM159 179h1v1h-1zM151 192h1v1h-1zM187 124h1v1h-1zM166 168h1v1h-1zM155 186h1v1h-1zM244 105h1v1h-1zM171 157h1v1h-1zM175 145h1v1h-1zM178 137h1v1h-1zM311 135h1v1h-1zM337 135h5v1h-5zM295 164h1v1h-1zM430 164h6v1h-6zM305 148h1v1h-1zM357 148h1v1h-1zM37 270h4v1h-4zM45 270h2v1h-2zM188 270h1v1h-1zM476 270h1v1h-1zM86 306h8v1h-8zM107 306h12v1h-12zM129 306h6v1h-6zM485 306h1v1h-1zM234 200h1v1h-1zM458 200h1v1h-1zM284 182h1v1h-1zM445 182h1v1h-1zM51 276h1v1h-1zM170 276h1v1h-1zM180 276h1v1h-1zM478 276h1v1h-1zM316 125h1v1h-1zM326 125h1v1h-1zM319 121h3v1h-3zM496 330h1v1h-1zM252 194h4v1h-4zM262 194h13v1h-13zM455 194h1v1h-1zM206 255h1v1h-1zM471 255h1v1h-1zM300 155h1v1h-1zM363 155h1v1h-1zM390 155h5v1h-5zM419 155h1v1h-1zM256 193h6v1h-6zM275 193h2v1h-2zM454 193h1v1h-1zM47 271h2v1h-2zM186 271h2v1h-2zM477 271h1v1h-1zM224 234h1v1h-1zM467 234h1v1h-1zM206 256h1v1h-1zM472 256h1v1h-1zM492 323h1v1h-1zM84 305h2v1h-2zM94 305h13v1h-13zM119 305h10v1h-10zM135 305h3v1h-3zM484 305h1v1h-1zM299 157h1v1h-1zM366 157h2v1h-2zM385 157h2v1h-2zM421 157h1v1h-1zM18 266h5v1h-5zM195 266h1v1h-1zM475 266h1v1h-1zM30 268h5v1h-5zM191 268h2v1h-2zM476 268h1v1h-1zM58 288h1v1h-1zM147 288h1v1h-1zM481 288h1v1h-1zM205 257h1v1h-1zM472 257h1v1h-1zM301 154h1v1h-1zM362 154h1v1h-1zM395 154h15v1h-15zM418 154h1v1h-1zM220 240h1v1h-1zM468 240h1v1h-1zM56 286h1v1h-1zM149 286h1v1h-1zM480 286h1v1h-1zM297 161h1v1h-1zM370 161h1v1h-1zM373 161h3v1h-3zM426 161h1v1h-1zM77 302h2v1h-2zM139 302h1v1h-1zM484 302h1v1h-1zM502 354h1v1h-1zM226 225h1v1h-1zM465 225h1v1h-1zM64 296h1v1h-1zM143 296h1v1h-1zM482 296h1v1h-1zM229 214h1v1h-1zM462 214h1v1h-1zM226 227h1v1h-1zM465 227h1v1h-1zM56 285h1v1h-1zM150 285h2v1h-2zM155 285h3v1h-3zM480 285h1v1h-1zM239 197h7v1h-7zM456 197h1v1h-1zM503 355h1v1h-1zM298 158h1v1h-1zM368 158h1v1h-1zM382 158h3v1h-3zM422 158h1v1h-1zM220 241h1v1h-1zM468 241h1v1h-1zM209 250h1v1h-1zM470 250h1v1h-1zM53 279h1v1h-1zM166 279h1v1h-1zM173 279h1v1h-1zM177 279h1v1h-1zM479 279h1v1h-1zM312 131h1v1h-1zM330 131h1v1h-1zM499 339h1v1h-1zM55 284h1v1h-1zM152 284h3v1h-3zM158 284h2v1h-2zM480 284h1v1h-1zM63 295h1v1h-1zM143 295h1v1h-1zM482 295h1v1h-1zM302 152h1v1h-1zM360 152h1v1h-1zM412 152h1v1h-1zM415 152h2v1h-2zM59 290h1v1h-1zM145 290h1v1h-1zM481 290h1v1h-1zM225 230h1v1h-1zM466 230h1v1h-1zM302 153h1v1h-1zM361 153h1v1h-1zM410 153h2v1h-2zM417 153h1v1h-1zM236 198h3v1h-3zM457 198h1v1h-1zM495 328h1v1h-1zM23 267h7v1h-7zM193 267h2v1h-2zM475 267h1v1h-1zM208 253h1v1h-1zM471 253h1v1h-1zM51 275h1v1h-1zM181 275h1v1h-1zM478 275h1v1h-1zM298 159h1v1h-1zM369 159h1v1h-1zM379 159h3v1h-3zM423 159h1v1h-1zM283 185h1v1h-1zM447 185h1v1h-1zM207 254h1v1h-1zM471 254h1v1h-1zM318 122h1v1h-1zM322 122h3v1h-3zM303 151h1v1h-1zM359 151h1v1h-1zM413 151h2v1h-2zM498 338h1v1h-1zM310 138h1v1h-1zM351 138h2v1h-2zM233 202h1v1h-1zM458 202h1v1h-1zM297 160h1v1h-1zM370 160h1v1h-1zM376 160h3v1h-3zM424 160h2v1h-2zM60 292h1v1h-1zM144 292h1v1h-1zM481 292h1v1h-1zM224 233h1v1h-1zM467 233h1v1h-1zM299 156h1v1h-1zM364 156h2v1h-2zM387 156h3v1h-3zM420 156h1v1h-1zM310 136h1v1h-1zM342 136h6v1h-6zM283 184h1v1h-1zM446 184h1v1h-1zM291 170h1v1h-1zM439 170h1v1h-1zM10 264h3v1h-3zM197 264h2v1h-2zM474 264h1v1h-1zM502 353h1v1h-1zM13 265h5v1h-5zM196 265h1v1h-1zM475 265h1v1h-1zM216 243h2v1h-2zM469 243h1v1h-1zM228 217h1v1h-1zM463 217h1v1h-1zM306 146h1v1h-1zM356 146h1v1h-1zM50 274h1v1h-1zM182 274h1v1h-1zM477 274h1v1h-1zM62 294h1v1h-1zM143 294h1v1h-1zM482 294h1v1h-1zM287 177h1v1h-1zM443 177h1v1h-1zM58 289h1v1h-1zM146 289h1v1h-1zM481 289h1v1h-1zM491 321h1v1h-1zM311 134h1v1h-1zM334 134h3v1h-3zM494 326h1v1h-1zM487 314h1v1h-1zM67 298h2v1h-2zM142 298h1v1h-1zM483 298h1v1h-1zM230 208h1v1h-1zM460 208h1v1h-1zM208 252h1v1h-1zM471 252h1v1h-1zM310 137h1v1h-1zM348 137h3v1h-3zM294 166h1v1h-1zM437 166h1v1h-1zM488 315h1v1h-1zM211 248h1v1h-1zM470 248h1v1h-1zM227 223h1v1h-1zM464 223h1v1h-1zM35 269h2v1h-2zM41 269h4v1h-4zM189 269h2v1h-2zM476 269h1v1h-1zM498 337h1v1h-1zM224 232h1v1h-1zM467 232h1v1h-1zM200 262h1v1h-1zM474 262h1v1h-1zM223 236h1v1h-1zM467 236h1v1h-1zM284 183h1v1h-1zM446 183h1v1h-1zM49 272h1v1h-1zM184 272h2v1h-2zM477 272h1v1h-1zM199 263h1v1h-1zM474 263h1v1h-1zM281 188h1v1h-1zM449 188h1v1h-1zM204 259h1v1h-1zM473 259h1v1h-1zM82 304h2v1h-2zM138 304h1v1h-1zM484 304h1v1h-1zM246 196h3v1h-3zM456 196h1v1h-1zM282 187h1v1h-1zM448 187h1v1h-1zM287 176h1v1h-1zM442 176h1v1h-1zM228 216h1v1h-1zM462 216h1v1h-1zM307 145h1v1h-1zM356 145h1v1h-1zM69 299h3v1h-3zM141 299h1v1h-1zM483 299h1v1h-1zM49 273h1v1h-1zM183 273h1v1h-1zM477 273h1v1h-1zM232 204h1v1h-1zM459 204h1v1h-1zM490 319h1v1h-1zM491 320h1v1h-1zM249 195h3v1h-3zM455 195h1v1h-1zM55 283h1v1h-1zM160 283h1v1h-1zM479 283h1v1h-1zM65 297h2v1h-2zM142 297h1v1h-1zM483 297h1v1h-1zM231 207h1v1h-1zM460 207h1v1h-1zM304 150h1v1h-1zM358 150h1v1h-1zM487 313h1v1h-1zM213 246h1v1h-1zM469 246h1v1h-1zM53 280h1v1h-1zM164 280h2v1h-2zM174 280h1v1h-1zM176 280h1v1h-1zM479 280h1v1h-1zM79 303h3v1h-3zM139 303h1v1h-1zM484 303h1v1h-1zM212 247h1v1h-1zM470 247h1v1h-1zM285 181h1v1h-1zM445 181h1v1h-1zM72 300h3v1h-3zM141 300h1v1h-1zM483 300h1v1h-1zM498 336h1v1h-1zM201 261h2v1h-2zM473 261h1v1h-1zM312 133h1v1h-1zM332 133h2v1h-2zM313 129h1v1h-1zM328 129h1v1h-1zM307 144h1v1h-1zM355 144h1v1h-1zM223 235h1v1h-1zM467 235h1v1h-1zM225 231h1v1h-1zM466 231h1v1h-1zM501 347h1v1h-1zM52 278h1v1h-1zM167 278h1v1h-1zM172 278h1v1h-1zM178 278h1v1h-1zM478 278h1v1h-1zM75 301h2v1h-2zM140 301h1v1h-1zM484 301h1v1h-1zM290 172h1v1h-1zM440 172h1v1h-1zM293 168h1v1h-1zM438 168h1v1h-1zM228 215h1v1h-1zM462 215h1v1h-1zM486 312h1v1h-1zM57 287h1v1h-1zM148 287h1v1h-1zM480 287h1v1h-1zM52 277h1v1h-1zM168 277h2v1h-2zM171 277h1v1h-1zM179 277h1v1h-1zM478 277h1v1h-1zM218 242h2v1h-2zM469 242h1v1h-1zM209 251h1v1h-1zM470 251h1v1h-1zM222 238h1v1h-1zM468 238h1v1h-1zM54 282h1v1h-1zM161 282h2v1h-2zM479 282h1v1h-1zM490 318h1v1h-1zM277 192h1v1h-1zM453 192h1v1h-1zM215 244h1v1h-1zM469 244h1v1h-1zM231 205h1v1h-1zM459 205h1v1h-1zM281 189h1v1h-1zM450 189h1v1h-1zM282 186h1v1h-1zM448 186h1v1h-1zM305 149h1v1h-1zM358 149h1v1h-1zM288 174h1v1h-1zM441 174h1v1h-1zM214 245h1v1h-1zM469 245h1v1h-1zM309 140h1v1h-1zM353 140h1v1h-1zM500 345h1v1h-1zM493 324h1v1h-1zM235 199h1v1h-1zM457 199h1v1h-1zM504 360h1v1h-1zM486 311h1v1h-1zM308 143h1v1h-1zM355 143h1v1h-1zM54 281h1v1h-1zM163 281h1v1h-1zM175 281h1v1h-1zM479 281h1v1h-1zM61 293h1v1h-1zM144 293h1v1h-1zM482 293h1v1h-1zM231 206h1v1h-1zM460 206h1v1h-1zM222 237h1v1h-1zM468 237h1v1h-1zM286 179h1v1h-1zM444 179h1v1h-1zM308 142h1v1h-1zM354 142h1v1h-1zM306 147h1v1h-1zM357 147h1v1h-1zM296 163h1v1h-1zM428 163h2v1h-2zM230 210h1v1h-1zM461 210h1v1h-1zM316 124h1v1h-1zM325 124h1v1h-1zM497 334h1v1h-1zM289 173h1v1h-1zM441 173h1v1h-1zM489 317h1v1h-1zM210 249h1v1h-1zM470 249h1v1h-1zM492 322h1v1h-1zM309 139h1v1h-1zM353 139h1v1h-1zM500 344h1v1h-1zM221 239h1v1h-1zM468 239h1v1h-1zM226 224h1v1h-1zM465 224h1v1h-1zM229 213h1v1h-1zM462 213h1v1h-1zM226 226h1v1h-1zM465 226h1v1h-1zM314 128h1v1h-1zM327 128h1v1h-1zM296 162h1v1h-1zM371 162h2v1h-2zM427 162h1v1h-1zM286 178h1v1h-1zM443 178h1v1h-1zM486 310h1v1h-1zM278 191h2v1h-2zM452 191h1v1h-1zM225 229h1v1h-1zM466 229h1v1h-1zM295 165h1v1h-1zM436 165h1v1h-1zM308 141h1v1h-1zM354 141h1v1h-1zM290 171h1v1h-1zM440 171h1v1h-1zM230 209h1v1h-1zM460 209h1v1h-1zM503 358h1v1h-1zM229 212h1v1h-1zM461 212h1v1h-1zM499 342h1v1h-1zM489 316h1v1h-1zM60 291h1v1h-1zM145 291h1v1h-1zM481 291h1v1h-1zM485 309h1v1h-1zM502 352h1v1h-1zM315 126h1v1h-1zM326 126h1v1h-1zM314 127h1v1h-1zM327 127h1v1h-1zM280 190h1v1h-1zM451 190h1v1h-1zM225 228h1v1h-1zM466 228h1v1h-1zM503 357h1v1h-1zM229 211h1v1h-1zM461 211h1v1h-1zM227 222h1v1h-1zM464 222h1v1h-1zM499 341h1v1h-1zM502 351h1v1h-1zM288 175h1v1h-1zM442 175h1v1h-1zM232 203h1v1h-1zM459 203h1v1h-1zM228 219h1v1h-1zM463 219h1v1h-1zM227 221h1v1h-1zM464 221h1v1h-1zM498 335h1v1h-1zM203 260h1v1h-1zM473 260h1v1h-1zM293 167h1v1h-1zM438 167h1v1h-1zM292 169h1v1h-1zM439 169h1v1h-1zM495 329h1v1h-1zM227 220h1v1h-1zM463 220h1v1h-1zM501 350h1v1h-1zM228 218h1v1h-1zM463 218h1v1h-1zM313 130h1v1h-1zM329 130h1v1h-1zM494 327h1v1h-1zM504 359h1v1h-1zM501 349h1v1h-1zM317 123h1v1h-1zM325 123h1v1h-1zM497 333h1v1h-1zM285 180h1v1h-1zM444 180h1v1h-1zM500 343h1v1h-1zM234 201h1v1h-1zM458 201h1v1h-1zM205 258h1v1h-1zM472 258h1v1h-1zM501 348h1v1h-1zM497 332h1v1h-1zM485 308h1v1h-1zM496 331h1v1h-1zM312 132h1v1h-1zM331 132h1v1h-1zM500 346h1v1h-1zM493 325h1v1h-1zM503 356h1v1h-1zM499 340h1v1h-1zM485 307h1v1h-1z"/><line x1="424.8" y1="159.5" x2="436.7" y2="109.3" stroke="#000" stroke-width="2.3"/><polygon points="438.7,101 441.6,110.4 431.9,108.1" fill="#000"/><line x1="499.5" y1="149.5" x2="474.8" y2="172.7" stroke="#000" stroke-width="2.3"/><polygon points="469.3,177.8 471.4,169.0 478.2,176.3" fill="#000"/><line x1="529.5" y1="231.7" x2="500.7" y2="258.4" stroke="#000" stroke-width="2.3"/><polygon points="495.2,263.5 497.3,254.7 504.1,262.1" fill="#000"/><rect x="549.5" y="84.5" width="43" height="18" fill="#fff" stroke="#000" stroke-width="1"/><text x="551" y="98" font-family="'Liberation Sans', sans-serif" font-size="12" font-weight="normal" fill="#f00" text-anchor="start" textLength="39.5" lengthAdjust="spacingAndGlyphs">4885,5</text><rect x="549.5" y="217.5" width="43" height="18" fill="#fff" stroke="#000" stroke-width="1"/><text x="551" y="231" font-family="'Liberation Sans', sans-serif" font-size="12" font-weight="normal" fill="#000" text-anchor="start" textLength="39.5" lengthAdjust="spacingAndGlyphs">4858,5</text><rect x="549.5" y="309.5" width="36" height="18" fill="#ffc400" stroke="#000" stroke-width="1"/><text x="551" y="323" font-family="'Liberation Sans', sans-serif" font-size="12" font-weight="normal" fill="#000" text-anchor="start" textLength="32" lengthAdjust="spacingAndGlyphs">4840,</text><rect x="549.5" y="351.5" width="43" height="18" fill="#fff" stroke="#000" stroke-width="1"/><text x="551" y="365" font-family="'Liberation Sans', sans-serif" font-size="12" font-weight="normal" fill="#f00" text-anchor="start" textLength="39.5" lengthAdjust="spacingAndGlyphs">4831,5</text></svg></body></html>
